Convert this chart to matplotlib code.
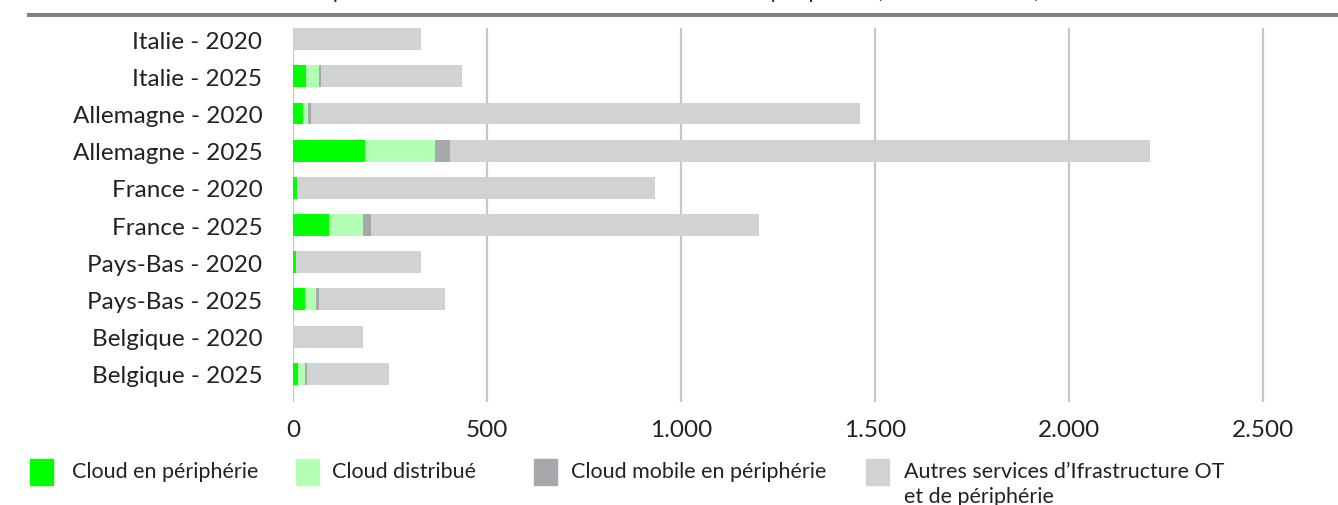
import numpy as np
import matplotlib.pyplot as plt
from matplotlib.lines import Line2D
from matplotlib.patches import Rectangle

plt.rcParams['font.family'] = ['Lato', 'DejaVu Sans']

# données (lecture du graphique)
categories = ['Italie - 2020', 'Italie - 2025', 'Allemagne - 2020', 'Allemagne - 2025',
              'France - 2020', 'France - 2025', 'Pays-Bas - 2020', 'Pays-Bas - 2025',
              'Belgique - 2020', 'Belgique - 2025']
cloud_peripherie = [0, 34, 25, 186, 10, 93, 7, 31, 0, 14]
cloud_distribue = [0, 34, 13, 180, 2, 88, 0, 28, 0, 18]
cloud_mobile = [0, 5, 9, 40, 0, 21, 0, 9, 0, 3]
autres = [329, 363, 1414, 1803, 921, 999, 322, 325, 181, 212]

series_names = ['Cloud en périphérie', 'Cloud distribué', 'Cloud mobile en périphérie',
                'Autres services d\u2019Ifrastructure OT\net de périphérie']
colors = ['#00ff00', '#b3ffb3', '#a7a8ab', '#d1d2d4']
x_ticks = [0, 500, 1000, 1500, 2000, 2500]
x_labels = ['0', '500', '1.000', '1.500', '2.000', '2.500']
title = 'Dépenses en services d\u2019infrastructure OT et de périphérie (millions d\u2019euros)'

W, H = 1338, 506
fig = plt.figure(figsize=(W / 100, H / 100), dpi=100)
ax = fig.add_axes([293 / W, 1 - 403 / H, (1286 - 293) / W, (403 - 29) / H])

y = np.arange(len(categories))
left = np.zeros(len(categories))
for vals, col in zip([cloud_peripherie, cloud_distribue, cloud_mobile, autres], colors):
    ax.barh(y, vals, left=left, height=0.59, color=col, zorder=3)
    left += np.array(vals)

ax.set_ylim(9.76, -0.3)
ax.set_xlim(0, 2560)
ax.set_yticks(y)
ax.set_yticklabels(categories, fontsize=17.5, color='#222222')
ax.set_xticks(x_ticks)
ax.set_xticklabels(x_labels, fontsize=17.5, color='#222222')
ax.tick_params(axis='y', length=0, pad=22)
ax.tick_params(axis='x', length=0, pad=12)
ax.grid(axis='x', color='#c6c6c6', linewidth=1.6, zorder=0)
for s in ax.spines.values():
    s.set_visible(False)

# ligne grise en haut + titre coupé
fig.add_artist(Line2D([28.7 / W, 1], [1 - 16 / H, 1 - 16 / H], color='#828286',
                      linewidth=2.9, transform=fig.transFigure))
fig.text(1040 / W, 1 + 1.5 / H, title, ha='right', va='baseline', fontsize=16,
         color='#333333')

# légende
patch_x = [30, 296, 534, 866]
text_x = [72, 332, 571, 904]
for px, tx, name, col in zip(patch_x, text_x, series_names, colors):
    fig.add_artist(Rectangle((px / W, 1 - 486 / H), 23 / W, 26 / H, color=col,
                             transform=fig.transFigure))
    for k, line in enumerate(name.split('\n')):
        fig.text(tx / W, 1 - (478 + 25 * k) / H, line, ha='left', va='baseline',
                 fontsize=15.5, color='#222222')

fig.savefig('out.png', dpi=100)
